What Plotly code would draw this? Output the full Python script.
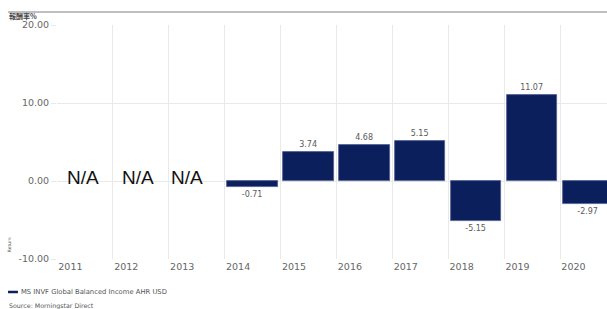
import plotly.graph_objects as go

years = ["2011", "2012", "2013", "2014", "2015", "2016", "2017", "2018", "2019", "2020"]
returns = [None, None, None, -0.71, 3.74, 4.68, 5.15, -5.15, 11.07, -2.97]
na_years = ["2011", "2012", "2013"]
y_ticks = [-10, 0, 10, 20]
series_name = "MS INVF Global Balanced Income AHR USD"

NAVY = "#0b1f5c"
GRAY_TXT = "#666666"
GRID = "#e9e9e9"

idx = list(range(len(years)))
xs = [i + 0.5 for i in idx]
texts = ["" if v is None else f"{v:.2f}" for v in returns]

fig = go.Figure()
fig.add_trace(go.Bar(
    x=xs, y=returns,
    width=0.9,
    marker=dict(color=NAVY, line=dict(color="#4d5d8f", width=0.8)),
    text=texts, textposition="outside", cliponaxis=False,
    textfont=dict(family="DejaVu Sans, Arial, sans-serif", size=8, color="#5a5a5a"),
    name=series_name, showlegend=False, hoverinfo="skip",
))

# N/A labels
na_pos = [0.465, 1.45, 2.33]
for p, yr in zip(na_pos, na_years):
    fig.add_annotation(x=p, y=0.4, xref="x", yref="y", text="N/A", showarrow=False,
                       font=dict(family="Liberation Sans, Arial, sans-serif", size=19, color="#111111"),
                       xanchor="center", yanchor="middle")

fig.update_layout(
    width=607, height=309,
    margin=dict(l=57, r=0, t=25, b=50),
    paper_bgcolor="white", plot_bgcolor="white",
    bargap=0,
    xaxis=dict(
        range=[0, 9.84],
        tickvals=[i + 0.24 for i in idx], ticktext=years,
        showgrid=False, zeroline=False, showline=False, ticks="",
        tickfont=dict(family="DejaVu Sans, Arial, sans-serif", size=9.5, color=GRAY_TXT),
        minor=dict(tickvals=idx + [10], showgrid=True, gridcolor=GRID, gridwidth=1.2, ticks=""),
        fixedrange=True, automargin=False,
    ),
    yaxis=dict(
        range=[-10, 20], tickvals=y_ticks, ticktext=[f"{t:.2f}" for t in y_ticks],
        showgrid=True, gridcolor=GRID, gridwidth=1, zeroline=False, showline=False,
        ticks="outside", ticklen=5, tickcolor=GRID,
        tickfont=dict(family="DejaVu Sans, Arial, sans-serif", size=9.5, color=GRAY_TXT),
        fixedrange=True, automargin=False,
    ),
)

# top rule
fig.add_shape(type="line", xref="paper", yref="paper", x0=-0.089, x1=1.0, y0=1.056, y1=1.056,
              line=dict(color="#aaaaaa", width=1.5))
fig.add_annotation(xref="paper", yref="paper", x=-0.091, y=1.04, text="<b>報酬率%</b>", showarrow=False,
                   xanchor="left", yanchor="middle",
                   font=dict(family="Noto Sans CJK TC, sans-serif", size=7, color="#444444"))
fig.add_annotation(xref="paper", yref="paper", x=-0.085, y=0.06, text="Return", showarrow=False,
                   textangle=-90, xanchor="center", yanchor="middle",
                   font=dict(family="DejaVu Sans, sans-serif", size=4.5, color="#555555"))

# legend
fig.add_shape(type="line", xref="paper", yref="paper", x0=-0.089, x1=-0.071, y0=-0.141, y1=-0.141,
              line=dict(color=NAVY, width=2.5))
fig.add_annotation(xref="paper", yref="paper", x=-0.069, y=-0.141, text=series_name, showarrow=False,
                   xanchor="left", yanchor="middle",
                   font=dict(family="DejaVu Sans, sans-serif", size=6.8, color="#555555"))
fig.add_annotation(xref="paper", yref="paper", x=-0.091, y=-0.199, text="Source: Morningstar Direct", showarrow=False,
                   xanchor="left", yanchor="middle",
                   font=dict(family="DejaVu Sans, sans-serif", size=6.3, color="#555555"))

fig.write_html("out.html", config={"displayModeBar": False},
               post_script="document.body.style.margin='0';document.body.style.overflow='hidden';")
